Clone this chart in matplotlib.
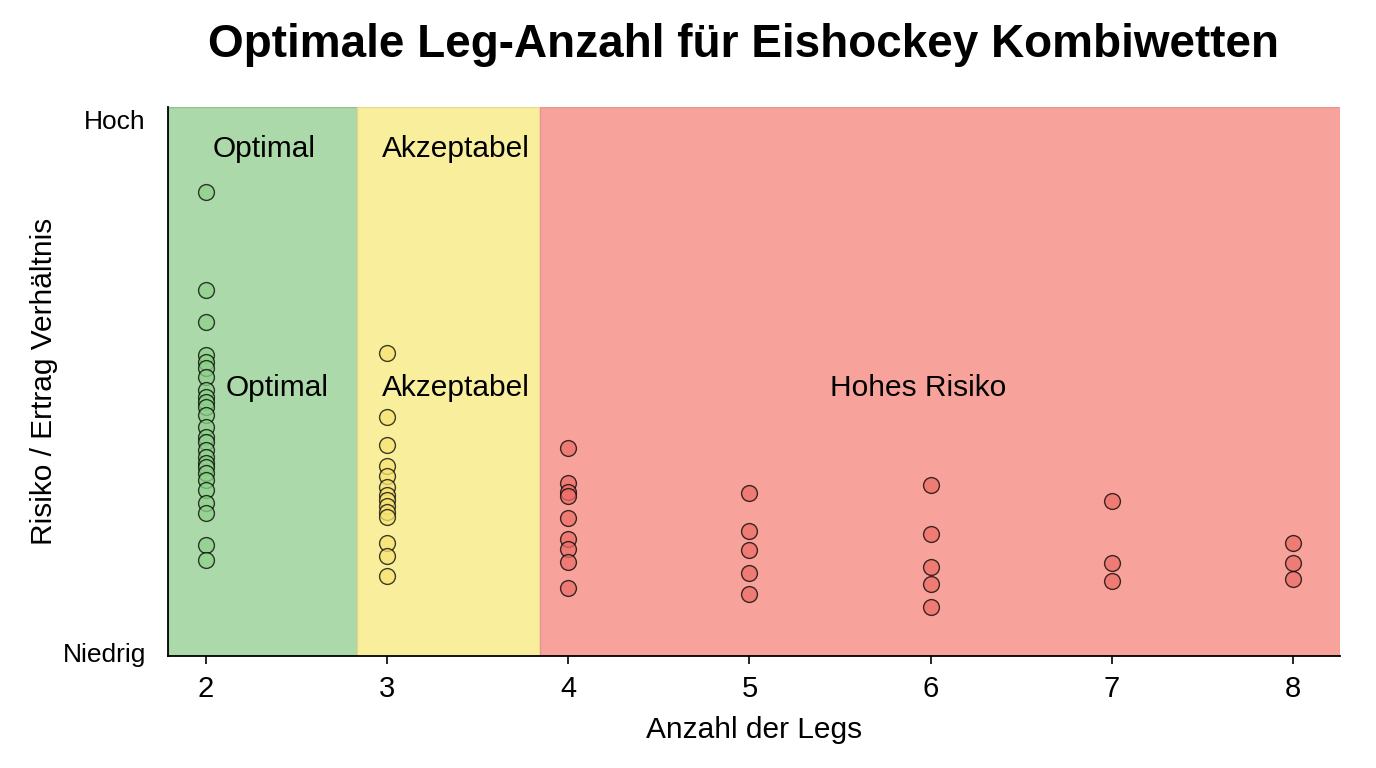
import matplotlib
matplotlib.use("Agg")
import matplotlib.pyplot as plt

plt.rcParams['font.family'] = ['Liberation Sans', 'DejaVu Sans']

# Data
legs_2 = [8.45, 6.67, 6.09, 5.48, 5.36, 5.25, 5.09, 4.85, 4.72, 4.63, 4.54, 4.39,
          4.17, 3.99, 3.90, 3.75, 3.63, 3.51, 3.45, 3.33, 3.21, 3.02, 2.78, 2.60,
          2.02, 1.75]
legs_3 = [5.52, 4.35, 3.84, 3.46, 3.28, 3.08, 2.93, 2.84, 2.73, 2.62, 2.53, 2.06,
          1.82, 1.46]
legs_4 = [3.78, 3.15, 2.99, 2.92, 2.51, 2.13, 1.94, 1.72, 1.23]
legs_5 = [2.96, 2.28, 1.93, 1.52, 1.13]
legs_6 = [3.11, 2.22, 1.63, 1.31, 0.90]
legs_7 = [2.83, 1.70, 1.37]
legs_8 = [2.06, 1.70, 1.40]

x_ticks = [2, 3, 4, 5, 6, 7, 8]
y_tick_labels = ["Niedrig", "Hoch"]
zone_names = ["Optimal", "Akzeptabel", "Hohes Risiko"]

fig = plt.figure(figsize=(13.76, 7.68), dpi=100)
ax = fig.add_axes([168/1376, 1-656/768, (1340-168)/1376, (656-107)/768])

xmin, xmax = 1.79, 8.26
b1, b2 = 2.833, 3.843
ax.axvspan(xmin, b1, facecolor="#acd9a9", edgecolor="#8cc48a", lw=1, zorder=0)
ax.axvspan(b1, b2, facecolor="#f9ee9c", edgecolor="#e6d98a", lw=1, zorder=0)
ax.axvspan(b2, xmax, facecolor="#f8a29c", edgecolor="#e89590", lw=1, zorder=0)

series = [(2, legs_2, "#8fd18c"), (3, legs_3, "#f7e474"),
          (4, legs_4, "#ec6e68"), (5, legs_5, "#ec6e68"),
          (6, legs_6, "#ec6e68"), (7, legs_7, "#ec6e68"),
          (8, legs_8, "#ec6e68")]
for xv, ys, c in series:
    ax.scatter([xv]*len(ys), ys, s=130, c=c, edgecolors="black",
               linewidths=1.0, alpha=0.75, zorder=3)

fs = 21.5
ax.text(2.32, 9.24, "Optimal", ha="center", va="center", fontsize=fs)
ax.text(3.38, 9.24, "Akzeptabel", ha="center", va="center", fontsize=fs)
ax.text(2.39, 4.88, zone_names[0], ha="center", va="center", fontsize=fs)
ax.text(3.38, 4.88, zone_names[1], ha="center", va="center", fontsize=fs)
ax.text(5.93, 4.88, zone_names[2], ha="center", va="center", fontsize=fs)

ax.set_xlim(xmin, xmax)
ax.set_ylim(0, 10)
ax.set_xticks(x_ticks)
ax.set_xticklabels([str(v) for v in x_ticks], fontsize=21)
ax.set_yticks([0.07, 9.78])
ax.set_yticklabels(y_tick_labels, fontsize=19)
ax.tick_params(axis='y', length=0, pad=16)
ax.tick_params(axis='x', length=6, width=1.2, pad=8)

for s in ["top", "right"]:
    ax.spines[s].set_visible(False)
for s in ["left", "bottom"]:
    ax.spines[s].set_linewidth(1.3)
    ax.spines[s].set_color("black")

ax.set_xlabel("Anzahl der Legs", fontsize=21.5, labelpad=9)
ax.set_ylabel("Risiko / Ertrag Verhältnis", fontsize=21.5, labelpad=3)
fig.suptitle("Optimale Leg-Anzahl für Eishockey Kombiwetten", fontsize=33,
             fontweight="bold", x=743/1376, y=1-45/768, va="center")

fig.savefig("out.png", dpi=100)
